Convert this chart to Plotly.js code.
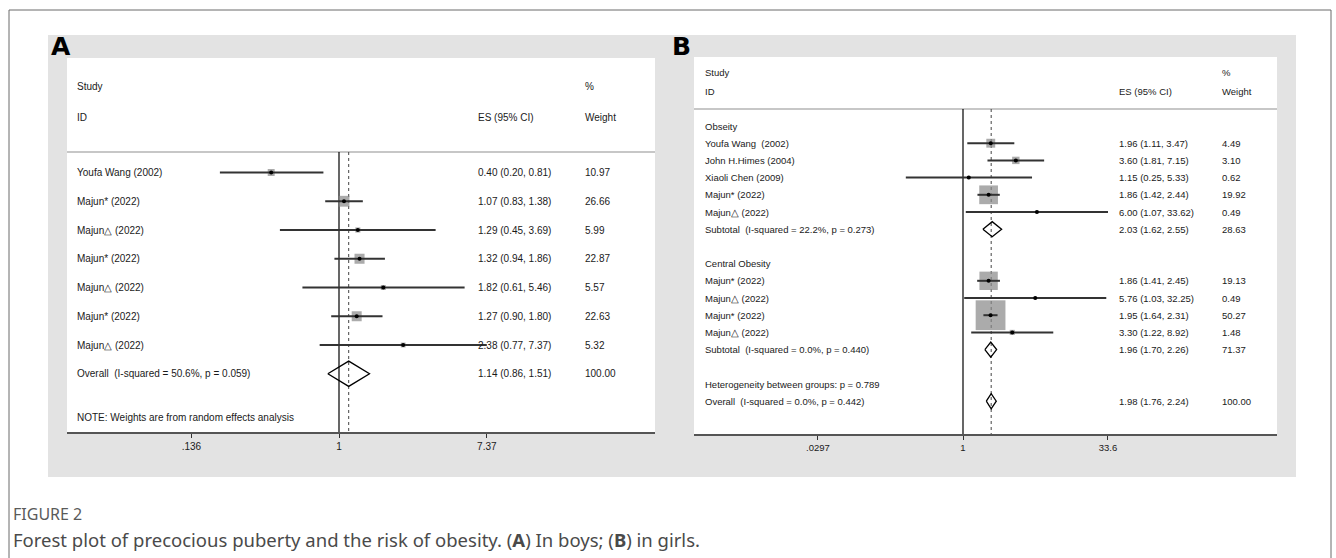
<!DOCTYPE html>
<html><head><meta charset="utf-8">
<script src="https://cdn.plot.ly/plotly-3.0.1.min.js"></script>
<style>html,body{margin:0;padding:0;background:#fff}#chart{width:1336px;height:558px}</style>
</head><body><div id="chart"></div>
<script>
// ---------- Panel A (boys) ----------
const studiesA = ["Youfa Wang (2002)","Majun* (2022)","Majun\u25B3 (2022)","Majun* (2022)","Majun\u25B3 (2022)","Majun* (2022)","Majun\u25B3 (2022)"];
const esA = [0.40,1.07,1.29,1.32,1.82,1.27,2.38];
const loA = [0.20,0.83,0.45,0.94,0.61,0.90,0.77];
const hiA = [0.81,1.38,3.69,1.86,5.46,1.80,7.37];
const weightA = [10.97,26.66,5.99,22.87,5.57,22.63,5.32];
const overallLabelA = "Overall\u00a0\u00a0(I-squared = 50.6%, p = 0.059)";
const overallEsA = 1.14, overallLoA = 0.86, overallHiA = 1.51, overallWeightA = 100.00;
const noteA = "NOTE: Weights are from random effects analysis";
const tickValsA = [0.136, 1, 7.37];
const tickTextA = [".136", "1", "7.37"];

// ---------- Panel B (girls) ----------
const groupNamesB = ["Obseity", "Central Obesity"];
const studiesB = ["Youfa Wang\u00a0\u00a0(2002)","John H.Himes (2004)","Xiaoli Chen (2009)","Majun* (2022)","Majun\u25B3 (2022)","Majun* (2022)","Majun\u25B3 (2022)","Majun* (2022)","Majun\u25B3 (2022)"];
const groupB = [0,0,0,0,0,1,1,1,1];
const esB = [1.96,3.60,1.15,1.86,6.00,1.86,5.76,1.95,3.30];
const loB = [1.11,1.81,0.25,1.42,1.07,1.41,1.03,1.64,1.22];
const hiB = [3.47,7.15,5.33,2.44,33.62,2.45,32.25,2.31,8.92];
const weightB = [4.49,3.10,0.62,19.92,0.49,19.13,0.49,50.27,1.48];
const subtotalLabelsB = ["Subtotal\u00a0\u00a0(I-squared = 22.2%, p = 0.273)","Subtotal\u00a0\u00a0(I-squared = 0.0%, p = 0.440)"];
const subtotalEsB = [2.03, 1.96];
const subtotalLoB = [1.62, 1.70];
const subtotalHiB = [2.55, 2.26];
const subtotalWeightB = [28.63, 71.37];
const heterogeneityB = "Heterogeneity between groups: p = 0.789";
const overallLabelB = "Overall\u00a0\u00a0(I-squared = 0.0%, p = 0.442)";
const overallEsB = 1.98, overallLoB = 1.76, overallHiB = 2.24, overallWeightB = 100.00;
const tickValsB = [0.0297, 1, 33.6];
const tickTextB = [".0297", "1", "33.6"];

// ---------- helpers ----------
const W = 1336, H = 558;
const X = p => p / W, Y = p => 1 - p / H;
const FONT = '"Liberation Sans", Arial, sans-serif';
const CAPFONT = '"Noto Sans", "Open Sans", sans-serif';
const TXT = '#1a1a1a';
const ann = [], shapes = [], traces = [];
function ptxt(x, y, text, size, extra) {
  ann.push(Object.assign({xref:'paper', yref:'paper', x:X(x), y:Y(y), text, showarrow:false,
    xanchor:'left', yanchor:'middle', font:{family:FONT, size, color:TXT}}, extra || {}));
}
function rtxt(yref, x, row, text, size) {
  ann.push({xref:'paper', yref, x:X(x), y:row, text, showarrow:false, xanchor:'left', yanchor:'middle',
    font:{family:FONT, size, color:TXT}});
}
const ci = (e, l, h) => e.toFixed(2) + " (" + l.toFixed(2) + ", " + h.toFixed(2) + ")";

// geometry (pixels)
const GA = {left:67, right:655, top:58, bottom:432, nullPx:339, ppl:74, row0:172.5, step:28.75, sep:152,
  labX:75, esX:476, wX:583, font:10, boxK:2.1, dh:0.44, hdr1:87, hdr2:117};
const GB = {left:694, right:1277, top:57, bottom:434, nullPx:963, ppl:41.25, row0:126, step:17.2, sep:109,
  labX:703, esX:1117, wX:1220, font:9.5, boxK:4.2, dh:0.44, hdr1:73, hdr2:91};
const rowOf = (g, px) => (px - g.row0) / g.step;

// background shapes
shapes.push({type:'rect', xref:'paper', yref:'paper', x0:X(9), x1:X(1331), y0:Y(10), y1:Y(620),
  line:{color:'#6a6a6a', width:1}, fillcolor:'rgba(0,0,0,0)', layer:'below'});
shapes.push({type:'rect', xref:'paper', yref:'paper', x0:X(48), x1:X(1296), y0:Y(35), y1:Y(477),
  line:{width:0}, fillcolor:'#e3e3e3', layer:'below'});
[GA, GB].forEach(g => {
  shapes.push({type:'rect', xref:'paper', yref:'paper', x0:X(g.left), x1:X(g.right), y0:Y(g.top), y1:Y(g.bottom),
    line:{width:0}, fillcolor:'#ffffff', layer:'below'});
  shapes.push({type:'line', xref:'paper', yref:'paper', x0:X(g.left), x1:X(g.right), y0:Y(g.sep), y1:Y(g.sep),
    line:{color:'#b4b4b4', width:1.5}, layer:'below'});
  ptxt(g.labX, g.hdr1, "Study", g.font);
  ptxt(g.labX, g.hdr2, "ID", g.font);
  ptxt(g.esX, g.hdr2, "ES (95% CI)", g.font);
  ptxt(g.wX, g.hdr1, "%", g.font);
  ptxt(g.wX, g.hdr2, "Weight", g.font);
});
const LETTERFONT = '"DejaVu Sans", "Liberation Sans", sans-serif';
ptxt(49, 47, "<b>A</b>", 25, {font:{family:LETTERFONT, size:25, color:'#000'}});
ptxt(670, 46, "<b>B</b>", 25, {font:{family:LETTERFONT, size:25, color:'#000'}});

function drawPanel(g, xa, ya, rows, es, lo, hi, w, labels, sumRows, sumEs, sumLo, sumHi, sumW, sumLabels, dashAt) {
  const yTop = rowOf(g, g.sep), yBot = rowOf(g, g.bottom);
  traces.push({type:'scatter', mode:'lines', xaxis:xa, yaxis:ya, x:[1,1], y:[yTop,yBot],
    line:{color:'#000', width:1.2}, hoverinfo:'skip'});
  traces.push({type:'scatter', mode:'lines', xaxis:xa, yaxis:ya, x:[dashAt,dashAt], y:[yTop,yBot],
    line:{color:'#444', width:1, dash:'3px,3px'}, hoverinfo:'skip'});
  traces.push({type:'scatter', mode:'markers', xaxis:xa, yaxis:ya, x:es, y:rows,
    marker:{symbol:'square', size:w.map(v => g.boxK * Math.sqrt(v)), color:'#888888', line:{width:0}}, hoverinfo:'skip'});
  traces.push({type:'scatter', mode:'markers', xaxis:xa, yaxis:ya, x:es, y:rows,
    error_x:{type:'data', symmetric:false, array:hi.map((h,i) => h - es[i]), arrayminus:lo.map((l,i) => es[i] - l),
      color:'#333', thickness:2, width:0},
    marker:{symbol:'circle', size:4, color:'#000'}, hoverinfo:'skip', cliponaxis:false});
  const dx = [], dy = [];
  sumRows.forEach((r, i) => {
    dx.push(sumLo[i], sumEs[i], sumHi[i], sumEs[i], sumLo[i], null);
    dy.push(r, r - g.dh, r, r + g.dh, r, null);
  });
  traces.push({type:'scatter', mode:'lines', xaxis:xa, yaxis:ya, x:dx, y:dy,
    line:{color:'#000', width:1.3}, hoverinfo:'skip', connectgaps:false});
  rows.forEach((r, i) => {
    rtxt(ya, g.labX, r, labels[i], g.font);
    rtxt(ya, g.esX, r, ci(es[i], lo[i], hi[i]), g.font);
    rtxt(ya, g.wX, r, w[i].toFixed(2), g.font);
  });
  sumRows.forEach((r, i) => {
    rtxt(ya, g.labX, r, sumLabels[i], g.font);
    rtxt(ya, g.esX, r, ci(sumEs[i], sumLo[i], sumHi[i]), g.font);
    rtxt(ya, g.wX, r, sumW[i].toFixed(2), g.font);
  });
}

// Panel A rows
const rowsA = studiesA.map((_, i) => i);
const overallRowA = studiesA.length;
drawPanel(GA, 'x', 'y', rowsA, esA, loA, hiA, weightA, studiesA,
  [overallRowA], [overallEsA], [overallLoA], [overallHiA], [overallWeightA], [overallLabelA], overallEsA);
rtxt('y', GA.labX, overallRowA + 1.53, noteA, GA.font);

// Panel B rows (group header, studies, subtotal, blank)
const rowsB = [], subRowsB = [], groupRowsB = [];
let r = 0;
groupNamesB.forEach((gname, gi) => {
  groupRowsB.push(r); r++;
  groupB.forEach((gg, i) => { if (gg === gi) { rowsB[i] = r; r++; } });
  subRowsB.push(r); r++;
  r++;
});
const hetRowB = r, overallRowB = r + 1;
drawPanel(GB, 'x2', 'y2', rowsB, esB, loB, hiB, weightB, studiesB,
  subRowsB.concat([overallRowB]), subtotalEsB.concat([overallEsB]), subtotalLoB.concat([overallLoB]),
  subtotalHiB.concat([overallHiB]), subtotalWeightB.concat([overallWeightB]),
  subtotalLabelsB.concat([overallLabelB]), overallEsB);
groupNamesB.forEach((gname, gi) => rtxt('y2', GB.labX, groupRowsB[gi], gname, GB.font));
rtxt('y2', GB.labX, hetRowB, heterogeneityB, GB.font);

// caption
ann.push({xref:'paper', yref:'paper', x:X(11), y:Y(514), text:"FIGURE 2", showarrow:false, xanchor:'left', yanchor:'middle',
  font:{family:CAPFONT, size:16, color:'#5a5a5a'}});
ann.push({xref:'paper', yref:'paper', x:X(11), y:Y(539),
  text:"Forest plot of precocious puberty and the risk of obesity. (<b>A</b>) In boys; (<b>B</b>) in girls.",
  showarrow:false, xanchor:'left', yanchor:'middle',
  font:{family:CAPFONT, size:18.5, color:'#4a4a4a'}});

const lr = g => [(g.left - g.nullPx) / g.ppl / Math.LN10, (g.right - g.nullPx) / g.ppl / Math.LN10];
const yr = g => [rowOf(g, g.bottom), rowOf(g, g.top)];
const xax = (g, vals, text, anchor) => ({type:'log', domain:[X(g.left), X(g.right)], range:lr(g), anchor,
  tickmode:'array', tickvals:vals, ticktext:text, ticks:'outside', ticklen:4, tickcolor:'#333', tickwidth:1,
  showline:true, linecolor:'#555', linewidth:1.6, showgrid:false, zeroline:false, fixedrange:true,
  tickfont:{family:FONT, size:g.font, color:TXT}});
const yax = (g, anchor) => ({domain:[Y(g.bottom), Y(g.top)], range:yr(g), anchor, visible:false, fixedrange:true,
  showgrid:false, zeroline:false});

const layout = {
  width:W, height:H, margin:{l:0, r:0, t:0, b:0}, paper_bgcolor:'#fff', plot_bgcolor:'rgba(0,0,0,0)',
  showlegend:false, hovermode:false,
  xaxis:xax(GA, tickValsA, tickTextA, 'y'), yaxis:yax(GA, 'x'),
  xaxis2:xax(GB, tickValsB, tickTextB, 'y2'), yaxis2:yax(GB, 'x2'),
  shapes, annotations:ann
};
Plotly.newPlot('chart', traces, layout, {displayModeBar:false, staticPlot:true});
</script></body></html>
